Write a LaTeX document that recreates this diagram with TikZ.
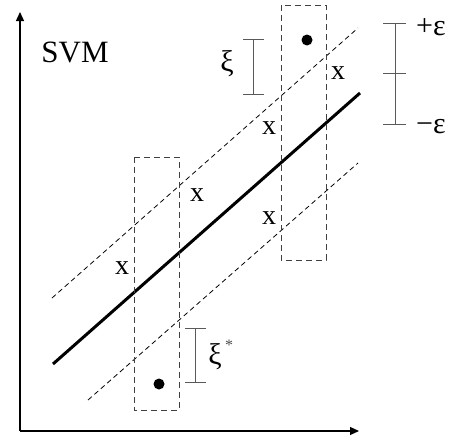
\documentclass[tikz,border=0pt]{standalone}
\usepackage{fontspec}
\setmainfont{Liberation Serif}
\usetikzlibrary{arrows.meta, positioning}

\begin{document}
\begin{tikzpicture}[x=1pt, y=-1pt,
  axis/.style={line width=1.2pt, -{Triangle[length=9pt, width=8pt]}},
  margin/.style={line width=0.8pt, dash pattern=on 5pt off 3.5pt},
  tube/.style={draw=black!75, line width=1pt, dash pattern=on 6pt off 4pt},
  bar/.style={draw=black!65, line width=1pt},
  lbl/.style={inner sep=0pt, font=\fontsize{28}{30}\selectfont},
  greek/.style={inner sep=0pt, font=\fontsize{30}{34}\selectfont},
  dot/.style={circle, fill=black, inner sep=0pt, minimum size=11pt}
]
\useasboundingbox (0,0) rectangle (449,439);

% axes
\coordinate (O) at (20,431);
\coordinate (ytop) at (20,12);
\coordinate (xend) at (359,431);
\draw[axis] (O) -- (ytop);
\draw[axis] (O) -- (xend);
\node[lbl, font=\fontsize{31}{34}\selectfont] (title) at (75,52) {SVM};

% regression line and the epsilon tube
\coordinate (f1) at (53,364);
\coordinate (f2) at (360,93);
\coordinate (u1) at (52,298);
\coordinate (u2) at (358,28);
\coordinate (l1) at (88,400);
\coordinate (l2) at (358,163);
\draw[line width=3pt] (f1) -- (f2);
\draw[margin] (u1) -- (u2);
\draw[margin] (l1) -- (l2);

% slack boxes
\draw[tube] (134,157) rectangle (179,410);
\draw[tube] (281,5) rectangle (326,260);
\node[dot] (outU) at (307,40) {};
\node[dot] (outL) at (159,384) {};

% points inside the tube
\node[lbl] (p1) at (338,73) {x};
\node[lbl] (p2) at (269,128) {x};
\node[lbl] (p3) at (197,195) {x};
\node[lbl] (p4) at (269,218) {x};
\node[lbl] (p5) at (122,268) {x};

% xi bar
\coordinate (xiT) at (253,39);
\coordinate (xiB) at (253,94);
\draw[bar] (xiT) -- (xiB);
\draw[bar] ([xshift=-10pt]xiT) -- ([xshift=11pt]xiT);
\draw[bar] ([xshift=-10pt]xiB) -- ([xshift=11pt]xiB);
\node[greek] (xi) at (227,64) {ξ};

% xi* bar
\coordinate (xsT) at (195,328);
\coordinate (xsB) at (195,382);
\draw[bar] (xsT) -- (xsB);
\draw[bar] ([xshift=-10pt]xsT) -- ([xshift=11pt]xsT);
\draw[bar] ([xshift=-10pt]xsB) -- ([xshift=11pt]xsB);
\node[greek] (xis) at (215,357) {ξ};
\node[inner sep=0pt, font=\fontsize{16}{18}\selectfont, text=black!70] (star) at (229,345) {*};

% epsilon bar
\coordinate (eT) at (395,23);
\coordinate (eM) at (395,73);
\coordinate (eB) at (395,124);
\draw[bar] (eT) -- (eB);
\foreach \c in {eT,eM,eB}
  \draw[bar] ([xshift=-12pt]\c) -- ([xshift=11pt]\c);
\node[greek] (ep) at (431,27) {+ε};
\node[greek] (em) at (431,127) {−ε};
\end{tikzpicture}
\end{document}
